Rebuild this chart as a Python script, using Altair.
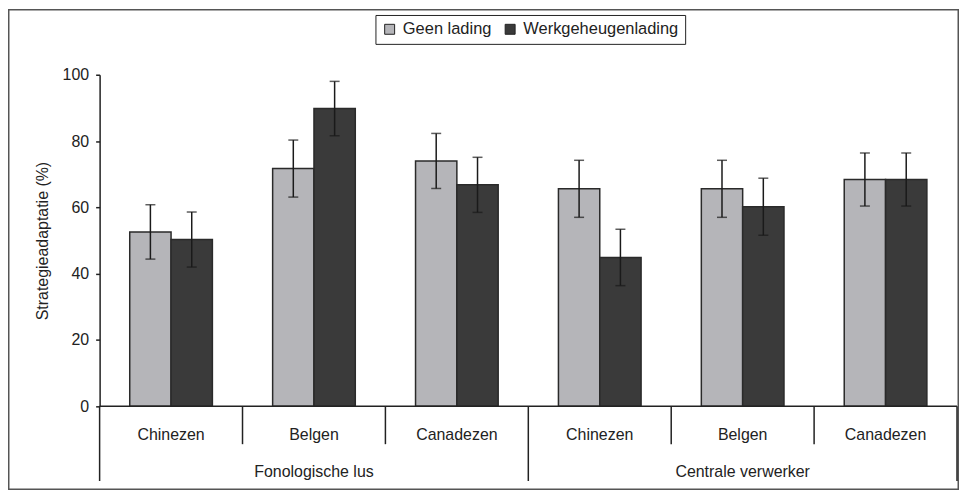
import altair as alt
import pandas as pd

# ---- data ----
groups = ["Fonologische lus"] * 3 + ["Centrale verwerker"] * 3
nationalities = ["Chinezen", "Belgen", "Canadezen", "Chinezen", "Belgen", "Canadezen"]
series = ["Geen lading", "Werkgeheugenlading"]
geen = [52.6, 71.7, 74.0, 65.6, 65.6, 68.4]
werk = [50.3, 89.8, 66.8, 44.9, 60.2, 68.4]
err_geen = [8.2, 8.6, 8.3, 8.6, 8.6, 8.0]
err_werk = [8.3, 8.2, 8.3, 8.5, 8.6, 8.0]
y_ticks = [0, 20, 40, 60, 80, 100]
y_title = "Strategieadaptatie (%)"
colors = ["#b5b5b9", "#3a3a3a"]

W, H = 861, 333
FONT = "Liberation Sans"
TXT = "#222222"

keys = [f"{i}|{g}|{n}" for i, (g, n) in enumerate(zip(groups, nationalities))]

rows = []
for k, g, n, v1, v2, e1, e2 in zip(keys, groups, nationalities, geen, werk, err_geen, err_werk):
    rows.append(dict(key=k, group=g, nat=n, series=series[0], value=v1, lo=v1 - e1, hi=v1 + e1))
    rows.append(dict(key=k, group=g, nat=n, series=series[1], value=v2, lo=v2 - e2, hi=v2 + e2))
df = pd.DataFrame(rows)

cats = pd.DataFrame(dict(key=keys, group=groups, nat=nationalities))

# separators: left edge of each category; long if group changes
sep = []
for i, k in enumerate(keys):
    long_ = i == 0 or groups[i] != groups[i - 1]
    sep.append(dict(key=k, long=long_))
sep = pd.DataFrame(sep)
last = pd.DataFrame(dict(key=[keys[-1]]))

# group labels centred under the middle category of each group
glab = []
for g in dict.fromkeys(groups):
    idx = [i for i, gg in enumerate(groups) if gg == g]
    glab.append(dict(key=keys[idx[len(idx) // 2]], group=g))
glab = pd.DataFrame(glab)

xscale = alt.Scale(domain=keys, paddingInner=0, paddingOuter=0)
xenc = alt.X("key:N", scale=xscale, axis=None, sort=keys)
xoff = alt.XOffset("series:N", scale=alt.Scale(domain=series, paddingInner=0, paddingOuter=0.729))
yenc = alt.Y(
    "value:Q",
    scale=alt.Scale(domain=[0, 100], nice=False),
    axis=alt.Axis(
        values=y_ticks, title=y_title, grid=False, tickSize=4, tickColor=TXT, tickWidth=1.5,
        domainColor=TXT, domainWidth=1.5, labelFontSize=16, labelPadding=7, labelColor=TXT,
        titleFontSize=16, titleFontWeight="normal", titleColor=TXT, titlePadding=12, labelFont=FONT,
        titleFont=FONT,
    ),
)

base = alt.Chart(df)

bars = base.mark_bar(stroke="#2a2a2a", strokeWidth=1.5).encode(
    x=xenc,
    xOffset=xoff,
    y=yenc,
    color=alt.Color(
        "series:N",
        scale=alt.Scale(domain=series, range=colors),
        legend=alt.Legend(
            title=None, orient="none", legendX=277, legendY=-60, direction="horizontal",
            strokeColor="#222", padding=6, symbolType="square", symbolSize=100,
            symbolStrokeColor="#222", symbolStrokeWidth=1, labelFontSize=16.5, labelFont=FONT,
            labelColor=TXT, columnPadding=10, labelOffset=5, fillColor="white",
        ),
    ),
)

err = base.mark_rule(color="#1a1a1a", strokeWidth=1.5).encode(
    x=xenc, xOffset=xoff, y="lo:Q", y2="hi:Q"
)
caps_hi = base.mark_tick(color="#1a1a1a", thickness=1.5, size=10, orient="horizontal").encode(
    x=xenc, xOffset=xoff, y="hi:Q"
)
caps_lo = base.mark_tick(color="#1a1a1a", thickness=1.5, size=10, orient="horizontal").encode(
    x=xenc, xOffset=xoff, y="lo:Q"
)

zero = alt.Chart(pd.DataFrame(dict(v=[0]))).mark_rule(color=TXT, strokeWidth=1.5).encode(
    y=alt.Y("v:Q")
)

short_sep = alt.Chart(sep[~sep["long"]]).mark_rule(color=TXT, strokeWidth=1.5).encode(
    x=alt.X("key:N", scale=xscale, axis=None, sort=keys, bandPosition=0),
    y=alt.value(H), y2=alt.value(H + 38),
)
long_sep = alt.Chart(sep[sep["long"]]).mark_rule(color=TXT, strokeWidth=1.5).encode(
    x=alt.X("key:N", scale=xscale, axis=None, sort=keys, bandPosition=0),
    y=alt.value(H), y2=alt.value(H + 75),
)
right_sep = alt.Chart(last).mark_rule(color=TXT, strokeWidth=1.5).encode(
    x=alt.X("key:N", scale=xscale, axis=None, sort=keys, bandPosition=1),
    y=alt.value(H), y2=alt.value(H + 75),
)

cat_text = alt.Chart(cats).mark_text(fontSize=16, font=FONT, color=TXT, baseline="middle").encode(
    x=xenc, y=alt.value(H + 29), text="nat:N"
)
grp_text = alt.Chart(glab).mark_text(fontSize=16, font=FONT, color=TXT, baseline="middle").encode(
    x=xenc, y=alt.value(H + 66), text="group:N"
)

frame = alt.Chart(pd.DataFrame(dict(a=[0]))).mark_rect(
    filled=False, stroke="#555555", strokeWidth=1.5
).encode(
    x=alt.value(-91.25), x2=alt.value(W + 1.25), y=alt.value(-65.25), y2=alt.value(H + 83.25)
)

chart = (
    alt.layer(frame, bars, err, caps_hi, caps_lo, zero, short_sep, long_sep, right_sep, cat_text, grp_text)
    .properties(
        width=W, height=H,
        autosize=alt.AutoSizeParams(type="none"),
        padding={"left": 92, "top": 66, "right": 2, "bottom": 84},
        background="white",
    )
    .configure_view(stroke=None)
)

chart.save("out.html", embed_options={"renderer": "svg", "actions": False})
